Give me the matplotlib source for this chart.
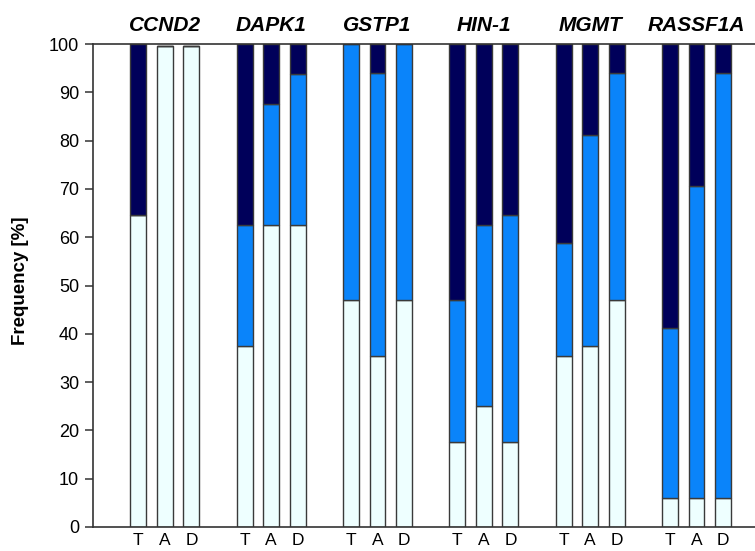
import numpy as np
import matplotlib.pyplot as plt

plt.rcParams['font.family'] = ['Liberation Sans', 'DejaVu Sans']

# Datos
genes = ['CCND2', 'DAPK1', 'GSTP1', 'HIN-1', 'MGMT', 'RASSF1A']
groups = ['T', 'A', 'D']

# porcentaje de cada categoria (claro, medio, oscuro) por gen y grupo T/A/D
light = [[64.7, 99.5, 99.5],
         [37.5, 62.5, 62.5],
         [47.1, 35.3, 47.1],
         [17.6, 25.0, 17.6],
         [35.3, 37.5, 47.1],
         [5.9, 5.9, 5.9]]
medium = [[0.0, 0.0, 0.0],
          [25.0, 25.0, 31.25],
          [52.9, 58.8, 52.9],
          [29.4, 37.5, 47.1],
          [23.5, 43.75, 47.0],
          [35.3, 64.7, 88.2]]
dark = [[35.3, 0.0, 0.0],
        [37.5, 12.5, 6.25],
        [0.0, 5.9, 0.0],
        [53.0, 37.5, 35.3],
        [41.2, 18.75, 5.9],
        [58.8, 29.4, 5.9]]

c_light = '#EEFFFF'
c_medium = '#0A84FA'
c_dark = '#00005A'

fig = plt.figure(figsize=(7.55, 5.51), dpi=100)
ax = fig.add_axes([0.1232, 0.0436, 0.8768, 0.8765])

pos = []
for g in range(len(genes)):
    for j in range(len(groups)):
        pos.append(g * 4 + j)
pos = np.array(pos)

l = np.array(light).ravel()
m = np.array(medium).ravel()
d = np.array(dark).ravel()

w = 0.6
ec = '#3a3a3a'
ax.bar(pos, l, width=w, color=c_light, edgecolor=ec, linewidth=1.0)
ax.bar(pos, m, width=w, bottom=l, color=c_medium, edgecolor=ec, linewidth=1.0)
ax.bar(pos, d, width=w, bottom=l + m, color=c_dark, edgecolor=ec, linewidth=1.0)

ax.set_xlim(-1.7, 23.2)
ax.set_ylim(0, 100)
ax.set_yticks(np.arange(0, 101, 10))
ax.tick_params(axis='y', labelsize=13, length=6, width=1.1, color='#333333', pad=4)
ax.set_xticks(pos)
ax.set_xticklabels(groups * len(genes))
ax.tick_params(axis='x', labelsize=12.5, length=0, pad=4)

for s in ['left', 'bottom', 'top']:
    ax.spines[s].set_linewidth(1.2)
    ax.spines[s].set_color('#333333')
ax.spines['right'].set_visible(False)

for g, gene in enumerate(genes):
    ax.text(g * 4 + 1, 103.8, gene, ha='center', va='center', fontsize=15,
            fontweight='bold', fontstyle='italic')

fig.text(0.027, 0.49, 'Frequency [%]', rotation=90, ha='center', va='center',
         fontsize=13.5, fontweight='bold')

fig.savefig('out.png', dpi=100)
